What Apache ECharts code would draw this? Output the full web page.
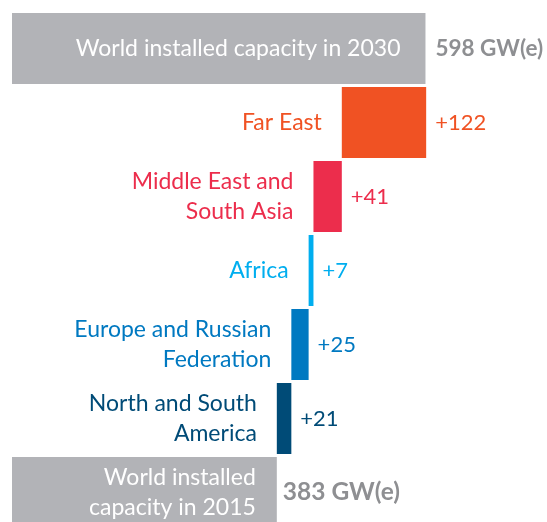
<!DOCTYPE html>
<html>
<head>
<meta charset="utf-8">
<script src="https://cdn.jsdelivr.net/npm/echarts@6/dist/echarts.min.js"></script>
<style>
  html, body { margin: 0; padding: 0; background: #fff; }
  #chart { width: 547px; height: 522px; }
</style>
</head>
<body>
<div id="chart"></div>
<script>
// rows from top to bottom
const categories = [
  'World installed capacity in 2030',
  'Far East',
  'Middle East and\nSouth Asia',
  'Africa',
  'Europe and Russian\nFederation',
  'North and South\nAmerica',
  'World installed\ncapacity in 2015'
]
const total2030 = 598
const total2015 = 383
// regional additions, same order as the middle rows
const additions = [122, 41, 7, 25, 21]
const rowColors = ['#b2b3b7', '#f05223', '#ec2d4c', '#00aeef', '#0079c1', '#004b77', '#b2b3b7']
const valueLabels = ['598 GW(e)', '+122', '+41', '+7', '+25', '+21', '383 GW(e)']

const font = 'Lato, "Noto Sans", sans-serif'

// waterfall: start from 2015 and stack each addition upwards
let running = total2015
const bases = new Array(additions.length)
for (let i = additions.length - 1; i >= 0; i--) {
  bases[i] = running
  running += additions[i]
}

const last = categories.length - 1

const baseData = categories.map((name, i) => {
  if (i === 0 || i === last) {
    return {
      value: i === 0 ? total2030 : total2015,
      itemStyle: { color: rowColors[i] },
      label: {
        show: true,
        position: 'insideRight',
        distance: i === 0 ? 25 : 21,
        color: '#ffffff',
        formatter: name
      }
    }
  }
  return {
    value: bases[i - 1],
    itemStyle: { color: 'transparent' },
    label: {
      show: true,
      position: 'insideRight',
      distance: 20,
      color: rowColors[i],
      formatter: name
    }
  }
})

const stepData = categories.map((name, i) => {
  const isTotal = i === 0 || i === last
  return {
    value: isTotal ? 0 : additions[i - 1],
    itemStyle: { color: rowColors[i] },
    label: {
      show: true,
      position: 'right',
      distance: isTotal ? (i === 0 ? 10 : 6) : 9,
      color: isTotal ? '#8e8f92' : rowColors[i],
      fontWeight: isTotal ? 'bold' : 'normal',
      fontSize: i === 0 ? 22.5 : (i === last ? 24.5 : 22),
      formatter: valueLabels[i]
    }
  }
})

const myChart = echarts.init(document.getElementById('chart'))
myChart.setOption({
  animation: false,
  grid: {
    left: 12,
    top: 11.5,
    width: 484,
    height: 518,
    outerBoundsMode: 'none'
  },
  xAxis: {
    type: 'value',
    min: 0,
    max: 700,
    show: false
  },
  yAxis: {
    type: 'category',
    data: categories,
    inverse: true,
    show: false
  },
  series: [
    {
      type: 'bar',
      stack: 'total',
      barWidth: 71,
      data: baseData,
      label: {
        fontFamily: font,
        fontSize: 23,
        lineHeight: 30,
        align: 'right'
      }
    },
    {
      type: 'bar',
      stack: 'total',
      barWidth: 71,
      data: stepData,
      label: {
        fontFamily: font,
        fontSize: 22
      }
    }
  ]
})
</script>
</body>
</html>
